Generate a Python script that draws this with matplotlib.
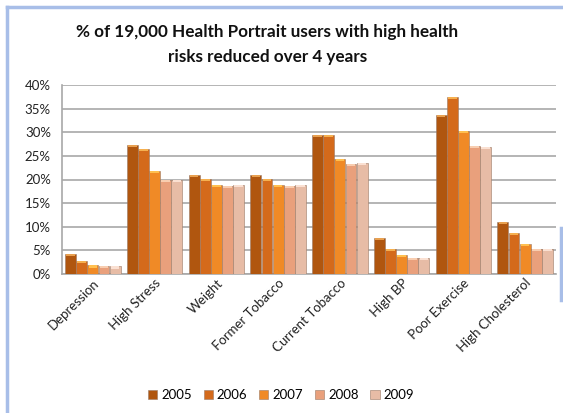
import matplotlib
matplotlib.use("Agg")
import matplotlib.pyplot as plt
from matplotlib.lines import Line2D
import numpy as np

categories = ["Depression", "High Stress", "Weight", "Former Tobacco",
              "Current Tobacco", "High BP", "Poor Exercise", "High Cholesterol"]
years = ["2005", "2006", "2007", "2008", "2009"]
v2005 = [4.3, 27.3, 21.0, 21.0, 29.4, 7.7, 33.7, 11.1]
v2006 = [2.8, 26.5, 20.1, 20.1, 29.4, 5.3, 37.4, 8.7]
v2007 = [1.8, 21.9, 18.9, 18.9, 24.4, 4.0, 30.3, 6.4]
v2008 = [1.7, 19.9, 18.6, 18.6, 23.3, 3.4, 27.1, 5.3]
v2009 = [1.6, 19.9, 18.9, 18.9, 23.5, 3.4, 26.9, 5.3]
series = [v2005, v2006, v2007, v2008, v2009]
yticks = [0, 5, 10, 15, 20, 25, 30, 35, 40]

colors = ["#B0560F", "#D46A1B", "#F08A26", "#E9A07C", "#E7BCA6"]
caps = ["#E8A050", "#F5B050", "#FFC050", "#F8CDB0", "#FAE0D2"]

plt.rcParams['font.family'] = ['Lato', 'DejaVu Sans']
fig = plt.figure(figsize=(5.63, 4.13), dpi=100)
fig.patch.set_facecolor("white")

ax = fig.add_axes([62/563, 1-274/413, (556-62)/563, (274-85)/413])
x = np.arange(len(categories))
w = 0.175
step = 0.18
for i, (vals, c, cc) in enumerate(zip(series, colors, caps)):
    pos = x - 2*step + i*step
    ax.bar(pos, vals, width=w, color=c, edgecolor="#9A7A66", linewidth=0.4,
           zorder=3, label=years[i])
    ax.bar(pos, [0.45]*len(vals), bottom=np.array(vals)-0.45, width=w*0.8,
           color=cc, linewidth=0, zorder=4)

ax.set_xlim(-0.5, len(categories)-0.5)
ax.set_ylim(0, 40)
ax.set_yticks(yticks)
ax.set_yticklabels([f"{t}%" for t in yticks], fontsize=9.5, color="#222222")
ax.yaxis.grid(True, color="#A8A8A8", linewidth=1.2, zorder=0)
ax.set_axisbelow(True)
ax.tick_params(axis='y', length=0, pad=8)
ax.tick_params(axis='x', length=0, pad=2)
ax.set_xticks(x)
ax.set_xticklabels(categories, rotation=45, ha="right", rotation_mode="anchor",
                   fontsize=9.5, color="#222222")
for s in ["top", "right"]:
    ax.spines[s].set_visible(False)
ax.spines["left"].set_color("#A8A8A8")
ax.spines["bottom"].set_color("#A8A8A8")
ax.spines["left"].set_linewidth(1.2)
ax.spines["bottom"].set_linewidth(1.2)

fig.text(267/563, 1-32/413, "% of 19,000 Health Portrait users with high health",
         ha="center", va="center", fontsize=12.3, fontweight="bold", color="#111111")
fig.text(268/563, 1-57/413, "risks reduced over 4 years",
         ha="center", va="center", fontsize=12.3, fontweight="bold", color="#111111")

handles = [plt.Rectangle((0, 0), 1, 1, facecolor=c, edgecolor="#9A7A66", linewidth=0.4)
           for c in colors]
fig.legend(handles, years, loc="center", bbox_to_anchor=(281/563, 1-395/413),
           ncol=5, frameon=False, fontsize=9.5, handlelength=0.7, handleheight=0.7,
           columnspacing=0.9, handletextpad=0.3)

# frame lines
fig.add_artist(Line2D([7/563, 7/563], [1-7/413, 0], transform=fig.transFigure,
                      color="#A8BEE8", linewidth=2.5))
fig.add_artist(Line2D([7/563, 1], [1-7/413, 1-7/413], transform=fig.transFigure,
                      color="#A8BEE8", linewidth=2.5))
fig.add_artist(Line2D([561/563, 561/563], [1-228/413, 1-300/413], transform=fig.transFigure,
                      color="#A8BEE8", linewidth=2.5))

fig.savefig("out.png", dpi=100, facecolor="white")
